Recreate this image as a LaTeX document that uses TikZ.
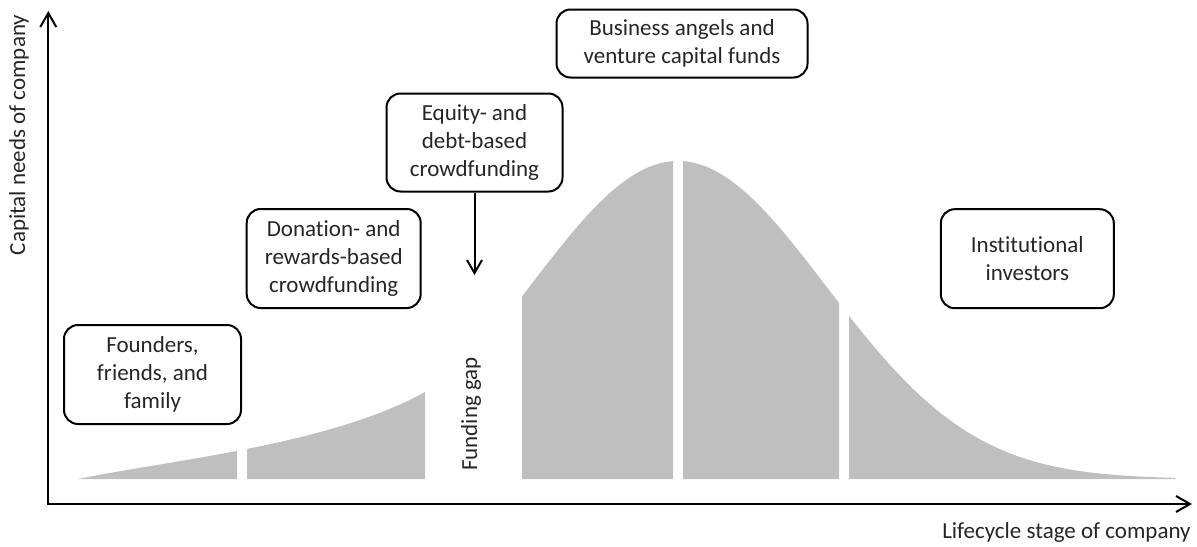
\documentclass[tikz,border=0pt]{standalone}
\usepackage{fontspec}
\setmainfont{Carlito}[Ligatures=CommonOff]
\usetikzlibrary{arrows.meta}

\definecolor{capgray}{RGB}{191,191,191}
\definecolor{boxtext}{RGB}{38,38,38}

\tikzset{
  stagebox/.style={draw=black, line width=1pt, rounded corners=7pt, align=center,
    text=boxtext, minimum width=87pt, minimum height=49.5pt, inner sep=2pt},
  axisline/.style={line width=1pt, {Straight Barb[length=7pt,width=8pt]}-{Straight Barb[length=7pt,width=8pt]}},
  pointer/.style={line width=1pt, -{Straight Barb[length=6.5pt,width=7.5pt]}},
  plainlabel/.style={text=boxtext, inner sep=0pt}
}

% early growth, then the bell of later stages
\newcommand\capcurve{(78,479) .. controls (170,460) and (330,445) .. (425,392) -- (425,479) -- cycle
  (522,479) -- plot[domain=522:1175, samples=120] (\x, {479-318*exp(-((\x-678)/148)^2/2)}) -- (1175,479) -- cycle}

\begin{document}
\begin{tikzpicture}[x=0.5pt,y=-0.5pt,font=\fontsize{11.5}{14}\selectfont]
\useasboundingbox (0,0) rectangle (1197,546);

% curve of capital needs, cut into stages
\foreach \a/\b in {70/237,247/425,522/673,683/839,849/1180}{
  \begin{scope}
    \clip (\a,0) rectangle (\b,546);
    \fill[capgray] \capcurve;
  \end{scope}
}

% axes
\coordinate (ytip) at (48.3,11);
\coordinate (origin) at (48.3,504);
\coordinate (xtip) at (1192,504);
\draw[axisline] (ytip) -- (origin) -- (xtip);
\node[plainlabel, rotate=90] (ylabel) at (19,135) {Capital needs of company};
\node[plainlabel, anchor=base east] (xlabel) at (1191,538) {Lifecycle stage of company};

% sources of funding
\node[stagebox, minimum width=88.5pt] (founders) at (152.5,374.5) {Founders,\\friends, and\\family};
\node[stagebox] (donation) at (333.7,258.5) {Donation- and\\rewards-based\\crowdfunding};
\node[stagebox, minimum width=88pt, minimum height=49pt] (equity) at (474.5,142.5) {Equity- and\\debt-based\\crowdfunding};
\node[stagebox, minimum width=125.5pt, minimum height=34pt] (angels) at (682,43.5) {Business angels and\\venture capital funds};
\node[stagebox, minimum width=86.5pt] (institutional) at (1027.3,258.7) {Institutional\\investors};

\node[plainlabel, rotate=90] (gaplabel) at (471,414) {Funding gap};
\coordinate (gaptop) at (474.5,275);
\draw[pointer] (equity) -- (gaptop);

\end{tikzpicture}
\end{document}
